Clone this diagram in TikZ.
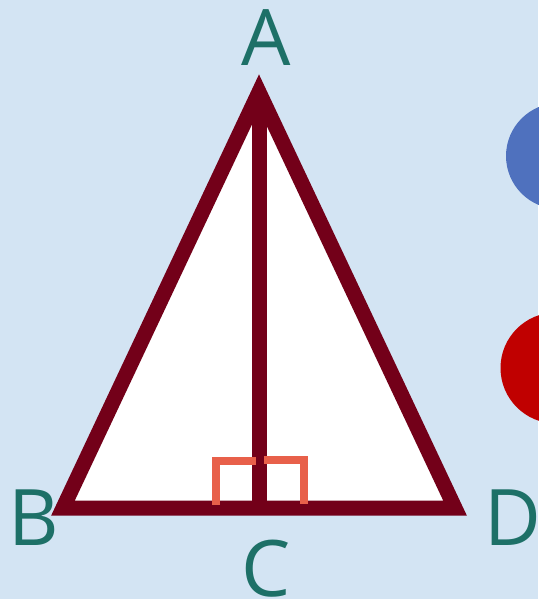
\documentclass[tikz,border=0pt]{standalone}
\usepackage{fontspec}
\setmainfont{Open Sans}
\definecolor{bg}{HTML}{D3E4F3}
\definecolor{tri}{HTML}{730019}
\definecolor{mark}{HTML}{E8604A}
\definecolor{lbl}{HTML}{1D7067}
\definecolor{cblue}{HTML}{4F71BE}
\definecolor{cred}{HTML}{C00000}
\tikzset{
  edge/.style={draw=tri, line width=15pt, miter limit=10, line join=miter},
  rmark/.style={draw=mark, line width=8pt, line join=miter},
  lab/.style={text=lbl, inner sep=0pt, anchor=base, font=\fontsize{78}{80}\selectfont}
}
\begin{document}
\begin{tikzpicture}[x=1pt,y=-1pt]
\fill[bg] (0,0) rectangle (538,599);
\useasboundingbox (0,0) rectangle (538,599);
\fill[cblue] (559,156) circle[radius=53];
\fill[cred] (556,368) circle[radius=55.5];
\coordinate (A) at (259,92);
\coordinate (B) at (63,508);
\coordinate (D) at (455,508);
\coordinate (C) at (259,508);
\filldraw[edge, fill=white] (A) -- (B) -- (D) -- cycle;
\draw[edge] (A) -- (C);
\coordinate (m1) at (216,505);
\coordinate (m2) at (216,461);
\coordinate (m3) at (256,461);
\coordinate (n1) at (264,460);
\coordinate (n2) at (304,460);
\coordinate (n3) at (304,504);
\draw[rmark] (m1) -- (m2) -- (m3);
\draw[rmark] (n1) -- (n2) -- (n3);
\node[lab] (lA) at (266.5,66) {A};
\node[lab, anchor=base west] (lB) at (8,545) {B};
\node[lab] (lC) at (266,596) {C};
\node[lab, anchor=base west] (lD) at (484,545) {D};
\end{tikzpicture}
\end{document}
